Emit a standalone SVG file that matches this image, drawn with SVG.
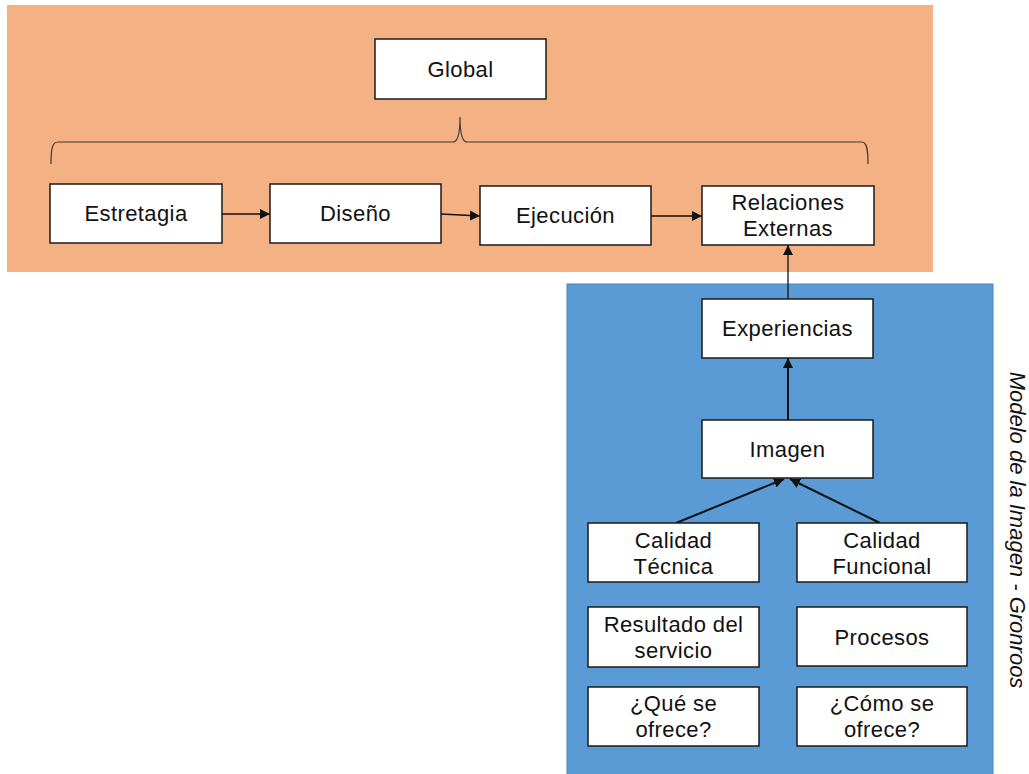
<svg xmlns="http://www.w3.org/2000/svg" width="1029" height="774" viewBox="0 0 1029 774">
  <style>
    .box { fill: #ffffff; stroke: #1a1a1a; stroke-width: 1.5; }
    .lbl { font-family: "Liberation Sans", Arial, sans-serif; font-size: 22px; letter-spacing: 0.4px; fill: #111111; text-anchor: middle; }
    .edge { stroke: #111111; stroke-width: 1.3; fill: none; marker-end: url(#arrow); }
    .edge2 { stroke: #111111; stroke-width: 2; fill: none; marker-end: url(#arrow); }
  </style>
  <defs>
    <marker id="arrow" viewBox="0 0 10 10" refX="10" refY="5" markerWidth="10" markerHeight="10" markerUnits="userSpaceOnUse" orient="auto">
      <path d="M0,0 L10,5 L0,10 z" fill="#111111"/>
    </marker>
  </defs>
  <rect width="1029" height="774" fill="#ffffff"/>

  <!-- background panels -->
  <rect id="panel-global" x="7" y="5" width="926" height="267" fill="#F4B183"/>
  <rect id="panel-gronroos" x="567" y="284" width="426" height="495" fill="#5B9BD5" stroke="#4a85bd" stroke-width="1"/>
  <text id="panel-gronroos-title" transform="translate(1010,530) rotate(90)" font-family="Liberation Sans, Arial, sans-serif" font-size="22" font-style="italic" fill="#111111" text-anchor="middle">Modelo de la Imagen - Gronroos</text>

  <!-- brace grouping the stages -->
  <path id="brace" d="M51,164 C51,150 52,142 58,142 L453,142 C458,142 460,132 460,117 C460,132 462,142 467,142 L862,142 C867,142 868,150 868,164" fill="none" stroke="#3a3a3a" stroke-width="1.2"/>

  <g id="connectors">
    <line class="edge" x1="222" y1="214" x2="270" y2="214"/>
    <line class="edge" x1="441" y1="214" x2="480" y2="216"/>
    <line class="edge" x1="651" y1="216" x2="702" y2="216"/>
    <line class="edge" x1="788" y1="299" x2="788" y2="245"/>
    <line class="edge2" x1="788" y1="420" x2="788" y2="358"/>
    <line class="edge2" x1="676" y1="523" x2="784" y2="479"/>
    <line class="edge2" x1="880" y1="523" x2="790" y2="479"/>
  </g>

  <g id="node-global">
    <rect class="box" x="375" y="39" width="171" height="60"/>
    <text class="lbl" x="460.5" y="77">Global</text>
  </g>
  <g id="node-estretagia">
    <rect class="box" x="50" y="184" width="172" height="59"/>
    <text class="lbl" x="136" y="221">Estretagia</text>
  </g>
  <g id="node-diseno">
    <rect class="box" x="270" y="184" width="171" height="59"/>
    <text class="lbl" x="355.5" y="221">Diseño</text>
  </g>
  <g id="node-ejecucion">
    <rect class="box" x="480" y="186" width="171" height="59"/>
    <text class="lbl" x="565.5" y="223">Ejecución</text>
  </g>
  <g id="node-relaciones">
    <rect class="box" x="702" y="186" width="172" height="59"/>
    <text class="lbl" x="788" y="210">Relaciones</text>
    <text class="lbl" x="788" y="236">Externas</text>
  </g>
  <g id="node-experiencias">
    <rect class="box" x="702" y="299" width="171" height="59"/>
    <text class="lbl" x="787.5" y="336">Experiencias</text>
  </g>
  <g id="node-imagen">
    <rect class="box" x="702" y="420" width="171" height="58"/>
    <text class="lbl" x="787.5" y="457">Imagen</text>
  </g>
  <g id="node-calidad-tecnica">
    <rect class="box" x="588" y="523" width="171" height="59"/>
    <text class="lbl" x="673.5" y="548">Calidad</text>
    <text class="lbl" x="673.5" y="574">Técnica</text>
  </g>
  <g id="node-calidad-funcional">
    <rect class="box" x="797" y="523" width="170" height="59"/>
    <text class="lbl" x="882" y="548">Calidad</text>
    <text class="lbl" x="882" y="574">Funcional</text>
  </g>
  <g id="node-resultado">
    <rect class="box" x="588" y="607" width="171" height="60"/>
    <text class="lbl" x="673.5" y="632">Resultado del</text>
    <text class="lbl" x="673.5" y="658">servicio</text>
  </g>
  <g id="node-procesos">
    <rect class="box" x="797" y="607" width="170" height="59"/>
    <text class="lbl" x="882" y="645">Procesos</text>
  </g>
  <g id="node-que">
    <rect class="box" x="588" y="687" width="171" height="59"/>
    <text class="lbl" x="673.5" y="711">¿Qué se</text>
    <text class="lbl" x="673.5" y="737">ofrece?</text>
  </g>
  <g id="node-como">
    <rect class="box" x="797" y="687" width="170" height="59"/>
    <text class="lbl" x="882" y="711">¿Cómo se</text>
    <text class="lbl" x="882" y="737">ofrece?</text>
  </g>
</svg>
